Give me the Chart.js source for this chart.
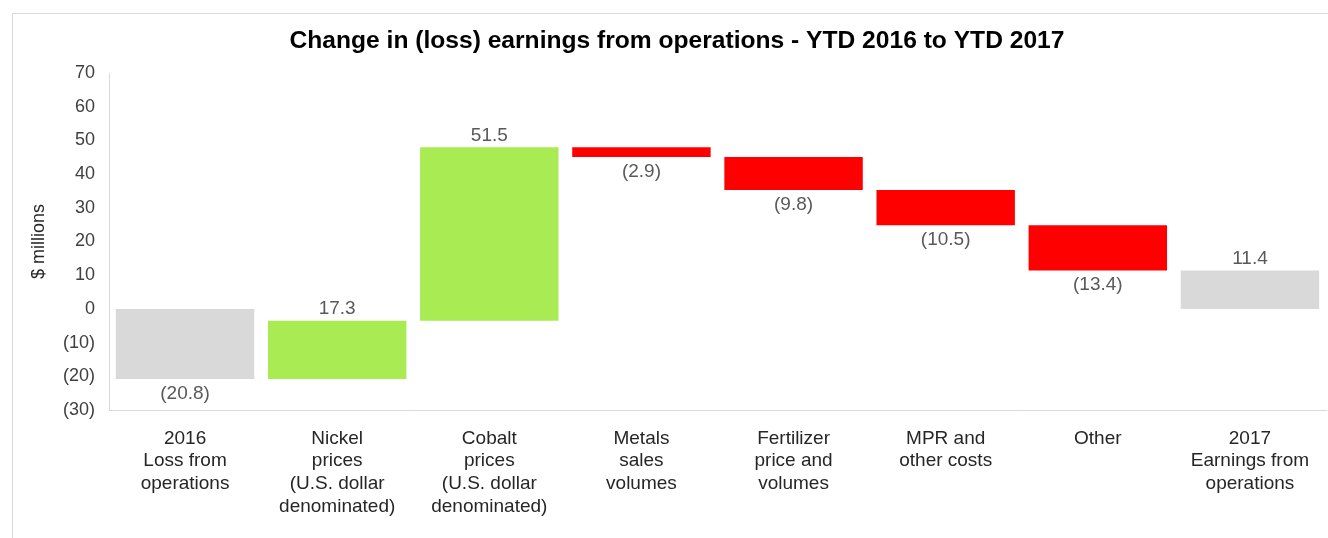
<!DOCTYPE html>
<html>
<head>
<meta charset="utf-8">
<script src="https://cdn.jsdelivr.net/npm/chart.js@4.4.1/dist/chart.umd.min.js"></script>
<style>
  html, body { margin: 0; padding: 0; background: #ffffff; overflow: hidden; width: 1328px; height: 538px; }
  #frame { position: absolute; left: 12px; top: 13px; width: 1340px; height: 540px; border: 1px solid #d9d9d9; background: #fff; }
  #wrap { position: absolute; left: 0; top: 0; width: 1328px; height: 524px; }
</style>
</head>
<body>
<div id="frame"><div id="wrap"><canvas id="c"></canvas></div></div>
<script>
const categories = [
  ["2016", "Loss from", "operations"],
  ["Nickel", "prices", "(U.S. dollar", "denominated)"],
  ["Cobalt", "prices", "(U.S. dollar", "denominated)"],
  ["Metals", "sales", "volumes"],
  ["Fertilizer", "price and", "volumes"],
  ["MPR and", "other costs"],
  ["Other"],
  ["2017", "Earnings from", "operations"]
];
const startValue = -20.8;
const changes = [17.3, 51.5, -2.9, -9.8, -10.5, -13.4];
const endValue = 11.4;
const yTicks = { min: -30, max: 70, step: 10 };

const colors = { total: "#d9d9d9", up: "#a9eb53", down: "#ff0000" };

// Build floating ranges
const ranges = [];
const amounts = [];
const barColors = [];
ranges.push([0, startValue]); amounts.push(startValue); barColors.push(colors.total);
let running = startValue;
for (const d of changes) {
  const next = Math.round((running + d) * 10) / 10;
  ranges.push([running, next]); amounts.push(d);
  barColors.push(d >= 0 ? colors.up : colors.down);
  running = next;
}
ranges.push([0, endValue]); amounts.push(endValue); barColors.push(colors.total);

function fmt(v) {
  const a = Math.abs(v).toFixed(1);
  return v < 0 ? "(" + a + ")" : a;
}

const labelPlugin = {
  id: "wfLabels",
  afterDatasetsDraw(chart) {
    const ctx = chart.ctx;
    const meta = chart.getDatasetMeta(0);
    const y = chart.scales.y;
    ctx.save();
    ctx.font = "19px 'Liberation Sans', Arial, sans-serif";
    ctx.fillStyle = "#595959";
    ctx.textAlign = "center";
    meta.data.forEach((bar, i) => {
      const r = ranges[i];
      const hi = Math.max(r[0], r[1]);
      const lo = Math.min(r[0], r[1]);
      const v = amounts[i];
      if (v >= 0) {
        ctx.textBaseline = "bottom";
        ctx.fillText(fmt(v), bar.x, y.getPixelForValue(hi) - 2);
      } else {
        ctx.textBaseline = "top";
        ctx.fillText(fmt(v), bar.x, y.getPixelForValue(lo) + 5);
      }
    });
    ctx.restore();
  }
};

new Chart(document.getElementById("c"), {
  type: "bar",
  data: {
    labels: categories,
    datasets: [{
      data: ranges,
      backgroundColor: barColors,
      borderWidth: 0,
      barPercentage: 0.91,
      categoryPercentage: 1.0
    }]
  },
  options: {
    responsive: true,
    maintainAspectRatio: false,
    animation: false,
    layout: { padding: { left: 15, right: 15, top: 0, bottom: 0 } },
    plugins: {
      legend: { display: false },
      tooltip: { enabled: false },
      title: {
        display: true,
        text: "Change in (loss) earnings from operations - YTD 2016 to YTD 2017",
        color: "#000000",
        font: { family: "'Liberation Sans', Arial, sans-serif", size: 24.6, weight: "bold" },
        padding: { top: 12.7, bottom: 16.8 }
      }
    },
    scales: {
      x: {
        grid: { display: false, drawTicks: false },
        border: { display: true, color: "#d9d9d9", width: 1 },
        ticks: {
          color: "#262626",
          padding: 17,
          maxRotation: 0,
          autoSkip: false,
          font: { family: "'Liberation Sans', Arial, sans-serif", size: 19, lineHeight: 1.2 }
        },
        afterFit(scale) { scale.height = 128; }
      },
      y: {
        min: yTicks.min,
        max: yTicks.max,
        grid: { display: false, drawTicks: false },
        border: { display: true, color: "#d9d9d9", width: 1 },
        ticks: {
          stepSize: yTicks.step,
          color: "#404040",
          padding: 14,
          font: { family: "'Liberation Sans', Arial, sans-serif", size: 18 },
          callback: (v) => v < 0 ? "(" + Math.abs(v) + ")" : String(v)
        },
        title: {
          display: true,
          text: "$ millions",
          color: "#262626",
          font: { family: "'Liberation Sans', Arial, sans-serif", size: 18 },
          padding: { top: 0, bottom: 0 }
        },
        afterFit(scale) { scale.width = 81; }
      }
    }
  },
  plugins: [labelPlugin]
});
</script>
</body>
</html>
